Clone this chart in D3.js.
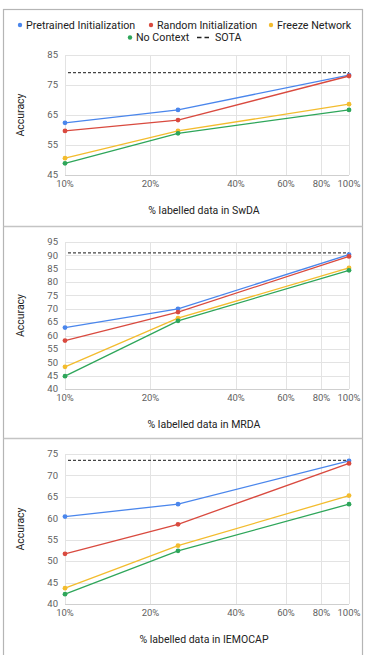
<!DOCTYPE html>
<head>
    <meta charset="utf-8">
    <style>
        body { margin: 0; background: #fff; }
        text { font-family: Roboto, "Liberation Sans", Arial, sans-serif; }
        .grid line { stroke: #e3e3e3; stroke-width: 1; }
        .tick-label { fill: #5f5f5f; font-size: 9.5px; }
        .title { fill: #222; font-size: 10.5px; }
        .legend { fill: #222; font-size: 10.7px; }
    </style>
    <script src="https://cdn.jsdelivr.net/npm/d3@7"></script>
</head>
<body>
<svg width="369" height="655"></svg>
<script>

// x positions (% labelled data) of the measured points
var labelPct = [10, 25, 100];
var xTickValues = [10, 20, 40, 60, 80, 100];

var seriesNames = ["Pretrained Initialization", "Random Initialization", "Freeze Network", "No Context"];
var seriesColors = ["#4a86ec", "#d94a3f", "#f3bc2e", "#2ea65a"];

// accuracy values: one row per series, columns follow labelPct
var swdaValues = [
  [62.4, 66.7, 78.3],
  [59.7, 63.3, 78.0],
  [50.6, 59.7, 68.6],
  [48.9, 58.9, 66.7]
];
var mrdaValues = [
  [63.0, 70.0, 90.3],
  [58.1, 68.8, 89.6],
  [48.3, 66.5, 85.3],
  [44.8, 65.5, 84.4]
];
var iemocapValues = [
  [60.4, 63.3, 73.4],
  [51.7, 58.6, 72.8],
  [43.7, 53.6, 65.3],
  [42.3, 52.4, 63.3]
];
var sotaValues = [79.1, 90.9, 73.5];

var swdaTicks = [45, 55, 65, 75, 85];
var mrdaTicks = [40, 45, 50, 55, 60, 65, 70, 75, 80, 85, 90, 95];
var iemocapTicks = [40, 45, 50, 55, 60, 65, 70, 75];

var datasetNames = ["SwDA", "MRDA", "IEMOCAP"];


var svg = d3.select("svg");

var left = 65, right = 349;

var x = d3.scaleLog()
    .domain([10, 100])
    .range([left, right]);

var panels = [
  { values: swdaValues, ticks: swdaTicks, sota: sotaValues[0], name: datasetNames[0], top: 55, bottom: 175 },
  { values: mrdaValues, ticks: mrdaTicks, sota: sotaValues[1], name: datasetNames[1], top: 242, bottom: 389 },
  { values: iemocapValues, ticks: iemocapTicks, sota: sotaValues[2], name: datasetNames[2], top: 454, bottom: 604 }
];

// outer frame and separators
svg.append("rect")
    .attr("x", 3.5).attr("y", 9.5)
    .attr("width", 359).attr("height", 660)
    .attr("fill", "none").attr("stroke", "#b5b5b5").attr("stroke-width", 1.2);

[226.5, 438.5].forEach(function(yy) {
  svg.append("line")
      .attr("x1", 3.5).attr("x2", 362.5)
      .attr("y1", yy).attr("y2", yy)
      .attr("stroke", "#c4c4c4").attr("stroke-width", 1.5);
});

// legend
var legendRows = [
  [{ i: 0, x: 18 }, { i: 1, x: 149 }, { i: 2, x: 269 }],
  [{ i: 3, x: 128 }]
];
legendRows.forEach(function(row, r) {
  var yy = 25 + r * 12.5;
  row.forEach(function(it) {
    svg.append("circle")
        .attr("cx", it.x + 2).attr("cy", yy)
        .attr("r", 2.2)
        .attr("fill", seriesColors[it.i]);
    svg.append("text")
        .attr("class", "legend")
        .attr("x", it.x + 8).attr("y", yy + 3.8)
        .text(seriesNames[it.i]);
  });
});
svg.append("line")
    .attr("x1", 197).attr("x2", 212)
    .attr("y1", 37.5).attr("y2", 37.5)
    .attr("stroke", "#222").attr("stroke-width", 1.4)
    .attr("stroke-dasharray", "4.5,3");
svg.append("text")
    .attr("class", "legend")
    .attr("x", 215).attr("y", 41.3)
    .text("SOTA");

panels.forEach(function(p) {
  var g = svg.append("g");

  var y = d3.scaleLinear()
      .domain([p.ticks[0], p.ticks[p.ticks.length - 1]])
      .range([p.bottom, p.top]);

  // horizontal grid
  g.append("g").attr("class", "grid")
    .selectAll("line")
    .data(p.ticks)
    .enter().append("line")
      .attr("x1", left).attr("x2", right)
      .attr("y1", function(d) { return Math.round(y(d)) + 0.5; })
      .attr("y2", function(d) { return Math.round(y(d)) + 0.5; });

  // vertical grid
  g.append("g").attr("class", "grid")
    .selectAll("line")
    .data(xTickValues)
    .enter().append("line")
      .attr("x1", function(d) { return Math.round(x(d)) + 0.5; })
      .attr("x2", function(d) { return Math.round(x(d)) + 0.5; })
      .attr("y1", p.top).attr("y2", p.bottom);

  // baseline
  g.append("line")
      .attr("x1", left).attr("x2", right)
      .attr("y1", Math.round(p.bottom) + 0.5).attr("y2", Math.round(p.bottom) + 0.5)
      .attr("stroke", "#cfcfcf");

  // y tick labels
  g.selectAll(".ytick")
    .data(p.ticks)
    .enter().append("text")
      .attr("class", "tick-label")
      .attr("text-anchor", "end")
      .attr("x", left - 7)
      .attr("y", function(d) { return y(d) + 3.3; })
      .text(function(d) { return d; });

  // x tick labels
  g.selectAll(".xtick")
    .data(xTickValues)
    .enter().append("text")
      .attr("class", "tick-label")
      .attr("text-anchor", "middle")
      .attr("x", function(d) { return x(d); })
      .attr("y", p.bottom + 11.5)
      .text(function(d) { return d + "%"; });

  // titles
  g.append("text")
      .attr("class", "title")
      .attr("text-anchor", "middle")
      .attr("x", (left + right) / 2 - 3)
      .attr("y", p.bottom + 38.5)
      .text("% labelled data in " + p.name);

  g.append("text")
      .attr("class", "title")
      .attr("text-anchor", "middle")
      .attr("transform", "translate(24," + ((p.top + p.bottom) / 2) + ") rotate(-90)")
      .text("Accuracy");

  // SOTA line
  g.append("line")
      .attr("x1", left + 3).attr("x2", right)
      .attr("y1", y(p.sota)).attr("y2", y(p.sota))
      .attr("stroke", "#444").attr("stroke-width", 1.2)
      .attr("stroke-dasharray", "3,2");

  var line = d3.line()
      .x(function(d, i) { return x(labelPct[i]); })
      .y(function(d) { return y(d); });

  p.values.forEach(function(vals, s) {
    g.append("path")
        .datum(vals)
        .attr("fill", "none")
        .attr("stroke", seriesColors[s])
        .attr("stroke-width", 1.3)
        .attr("d", line);

    g.selectAll(".pt" + s)
      .data(vals)
      .enter().append("circle")
        .attr("cx", function(d, i) { return x(labelPct[i]); })
        .attr("cy", function(d) { return y(d); })
        .attr("r", 2.4)
        .attr("fill", seriesColors[s]);
  });
});

</script>
</body>
